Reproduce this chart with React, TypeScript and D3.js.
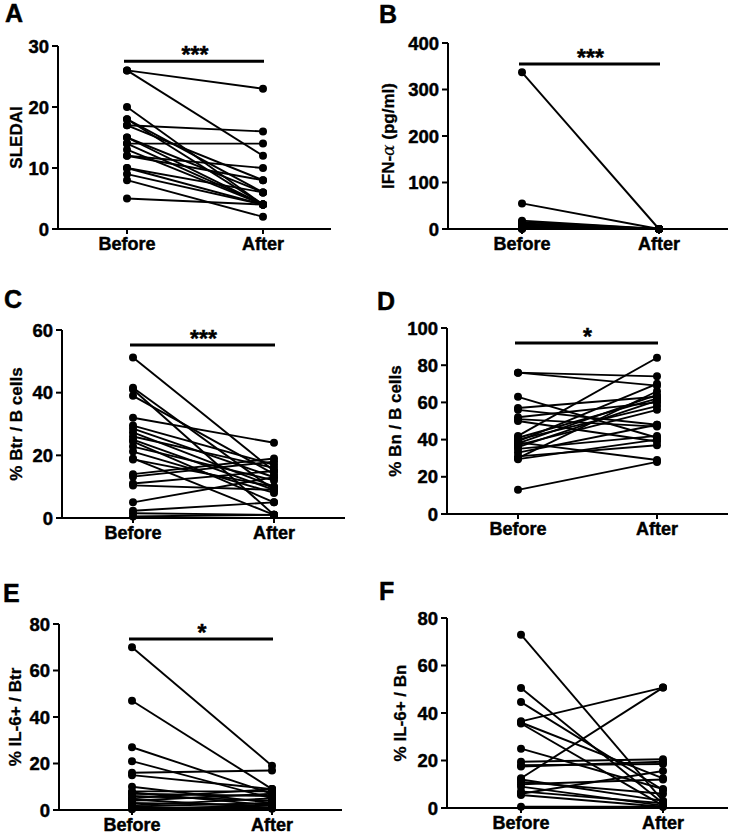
import React from "react";
import * as d3 from "d3";

// ---- data ----
const categories = ["Before", "After"];

const aBefore = [26, 26, 20, 18, 18, 17, 17, 15, 15, 14, 14, 13, 12, 12, 10, 10, 9, 8, 5];
const aAfter = [23, 12, 4, 6, 4, 16, 8, 4, 6, 14, 4, 4, 10, 8, 4, 6, 4, 2, 4];

const bBefore = [337, 55, 18, 15, 12, 10, 8, 6, 5, 4, 3, 2, 1, 0.5, 0];
const bAfter = [0, 0, 0, 0, 0, 0, 0, 0, 0, 0, 0, 0, 0, 0, 0];

const cBefore = [51.2, 41.6, 41, 39, 32, 29.5, 28.5, 27.3, 26, 25, 24.4, 22.8, 21.2, 19, 18.7, 14, 13.2, 11, 10.4, 5, 2.3, 1.5, 0.5];
const cAfter = [15, 9, 1, 14, 24, 17, 13, 10, 16, 9, 5, 12, 8, 1, 10, 19, 18, 15, 9, 13, 5, 1, 1];

const dBefore = [76, 76, 63, 57, 56, 52, 51, 50, 42, 41, 40, 39, 38.5, 38, 37, 36, 35, 33, 31, 30, 29.5, 13];
const dAfter = [74, 69, 41, 63, 48, 60, 47, 39, 84, 62, 58, 70, 29, 64, 56, 61, 42, 48, 37, 66, 40, 28];

const eBefore = [70, 47, 27, 21, 16, 15, 10, 8, 7.5, 7, 6, 5, 4.5, 4, 3, 2, 1.5, 1, 0.5, 0.3];
const eAfter = [19, 9, 7, 5, 17, 9, 3, 8, 2, 6, 4, 9, 1, 7, 2, 5, 3, 1, 0.5, 2];

const fBefore = [73, 50.5, 44.6, 36.5, 36, 35.6, 25, 19.5, 18, 17.5, 12.5, 12, 11, 10, 9, 7, 6, 5.5, 0.5];
const fAfter = [3, 2, 7.6, 50.7, 12.5, 1, 8, 20.5, 18.5, 19.5, 50.7, 3, 6, 12, 1, 2, 15.6, 0.5, 0.5];

const letters = ["A", "B", "C", "D", "E", "F"];
const yMaxes = [30, 400, 60, 100, 80, 80];
const ySteps = [10, 100, 20, 20, 20, 20];
const sigLabels = ["***", "***", "***", "*", "*", ""];
const sigLevels = [27.5, 355, 55.2, 92, 73.5, 0];

const FONT = "'Liberation Sans', Arial, Helvetica, sans-serif";

// layout (pixels)
const layouts = [
  { letterX: 5, letterY: 22, axisX: 58, xEnd: 331, y0: 229, yTop: 46, xB: 127, xA: 263, titleX: 16 },
  { letterX: 379, letterY: 23, axisX: 448, xEnd: 728, y0: 229, yTop: 43, xB: 522, xA: 659, titleX: 388 },
  { letterX: 4, letterY: 308, axisX: 62, xEnd: 345, y0: 518, yTop: 330, xB: 133, xA: 274, titleX: 16 },
  { letterX: 377, letterY: 310, axisX: 447, xEnd: 728, y0: 514, yTop: 328, xB: 518, xA: 657, titleX: 395 },
  { letterX: 3, letterY: 602, axisX: 59, xEnd: 342, y0: 810, yTop: 624, xB: 132, xA: 272, titleX: 15 },
  { letterX: 379, letterY: 600, axisX: 447, xEnd: 728, y0: 808, yTop: 618, xB: 521, xA: 663, titleX: 400 },
];

const heavy = { stroke: "#000", strokeWidth: 0.45 };

function Title({ idx }: { idx: number }) {
  switch (idx) {
    case 0:
      return <>SLEDAI</>;
    case 1:
      return (
        <>
          IFN-
          <tspan fontFamily="'DejaVu Serif', 'Liberation Serif', serif" fontStyle="italic" fontWeight="normal" strokeWidth={0.2}>
            α
          </tspan>{" "}
          (pg/ml)
        </>
      );
    case 2:
      return <>% Btr / B cells</>;
    case 3:
      return <>% Bn / B cells</>;
    case 4:
      return <>% IL-6+ / Btr</>;
    default:
      return <>% IL-6+ / Bn</>;
  }
}

function Panel({ idx, before, after }: { idx: number; before: number[]; after: number[] }) {
  const L = layouts[idx];
  const y = d3.scaleLinear().domain([0, yMaxes[idx]]).range([L.y0, L.yTop]);
  const x = d3.scalePoint<string>().domain(categories).range([L.xB, L.xA]);
  const ticks = d3.range(0, yMaxes[idx] + ySteps[idx] / 2, ySteps[idx]);
  const line = d3
    .line<[string, number]>()
    .x((d) => x(d[0]) as number)
    .y((d) => y(d[1]));
  const pairs = before.map((b, i) => [
    [categories[0], b],
    [categories[1], after[i]],
  ]) as [string, number][][];
  const midY = (L.y0 + L.yTop) / 2;
  return (
    <g>
      <text x={L.letterX} y={L.letterY} fontSize={25} fontWeight="bold" fontFamily={FONT} {...heavy}>
        {letters[idx]}
      </text>
      {/* y axis */}
      <line x1={L.axisX} x2={L.axisX} y1={L.y0} y2={L.yTop} stroke="#000" strokeWidth={2} />
      {ticks.map((t) => (
        <g key={t}>
          <line x1={L.axisX - 6} x2={L.axisX} y1={y(t)} y2={y(t)} stroke="#000" strokeWidth={2} />
          <text
            x={L.axisX - 9}
            y={y(t) + 6.5}
            textAnchor="end"
            fontSize={18.5}
            fontWeight="bold"
            fontFamily={FONT}
            {...heavy}
          >
            {t}
          </text>
        </g>
      ))}
      {/* x axis */}
      <line x1={L.axisX - 1} x2={L.xEnd} y1={L.y0} y2={L.y0} stroke="#000" strokeWidth={2} />
      {categories.map((c) => (
        <g key={c}>
          <line x1={x(c)} x2={x(c)} y1={L.y0} y2={L.y0 + 5} stroke="#000" strokeWidth={2} />
          <text
            x={x(c)}
            y={L.y0 + 21}
            textAnchor="middle"
            fontSize={18}
            fontWeight="bold"
            fontFamily={FONT}
            {...heavy}
          >
            {c}
          </text>
        </g>
      ))}
      {/* y title */}
      <text
        transform={`translate(${L.titleX + 6},${midY}) rotate(-90)`}
        textAnchor="middle"
        fontSize={17}
        fontWeight="bold"
        fontFamily={FONT}
        stroke="#000"
        strokeWidth={0.3}
      >
        <Title idx={idx} />
      </text>
      {/* paired lines */}
      {pairs.map((p, i) => (
        <path key={i} d={line(p) || ""} fill="none" stroke="#000" strokeWidth={1.9} />
      ))}
      {pairs.map((p, i) =>
        p.map((d, j) => <circle key={`${i}-${j}`} cx={x(d[0])} cy={y(d[1])} r={4} fill="#000" />)
      )}
      {/* significance */}
      {sigLabels[idx] && (
        <g>
          <line
            x1={L.xB - 3}
            x2={L.xA + 1}
            y1={y(sigLevels[idx])}
            y2={y(sigLevels[idx])}
            stroke="#000"
            strokeWidth={3}
          />
          <text
            x={(L.xB + L.xA) / 2}
            y={y(sigLevels[idx]) + 2}
            textAnchor="middle"
            fontSize={23}
            fontWeight="bold"
            fontFamily={FONT}
            {...heavy}
          >
            {sigLabels[idx]}
          </text>
        </g>
      )}
    </g>
  );
}

export default function App() {
  const befores = [aBefore, bBefore, cBefore, dBefore, eBefore, fBefore];
  const afters = [aAfter, bAfter, cAfter, dAfter, eAfter, fAfter];
  return (
    <svg
      width={737}
      height={835}
      style={{ position: "absolute", left: 0, top: 0, background: "#fff" }}
    >
      <rect width={737} height={835} fill="#fff" />
      {befores.map((b, i) => (
        <Panel key={i} idx={i} before={b} after={afters[i]} />
      ))}
    </svg>
  );
}
